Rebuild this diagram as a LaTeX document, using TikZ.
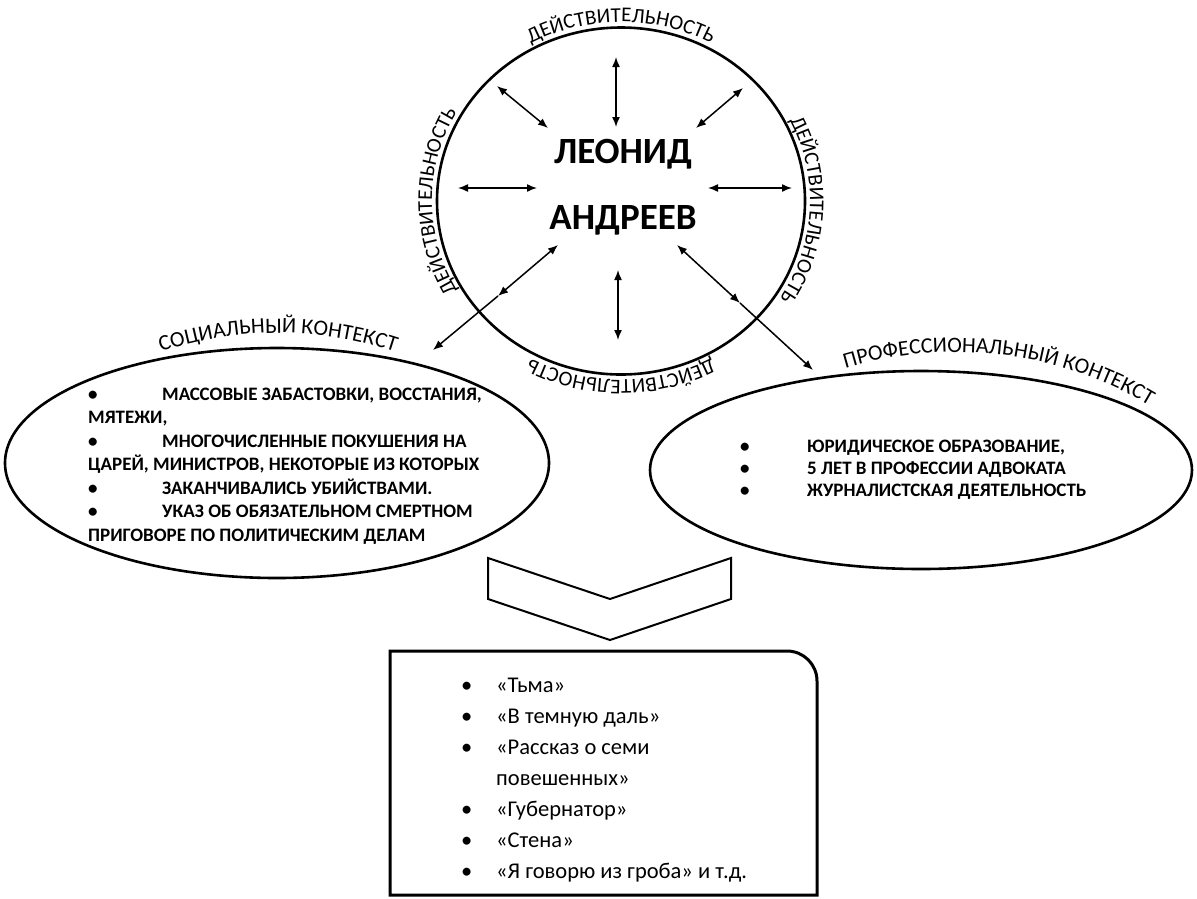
\documentclass[tikz,border=0pt]{standalone}
\usepackage{fontspec}
\setmainfont{Carlito}
\usetikzlibrary{arrows.meta,positioning,shapes.geometric,decorations.text}

\newcommand\bul[1]{\makebox[#1][l]{•}}
\newcommand\ringfont{\fontsize{21pt}{21pt}\selectfont}
\newcommand\ctxfont{\fontsize{22pt}{22pt}\selectfont}

\begin{document}
\begin{tikzpicture}[
  x=1pt, y=-1pt,
  >={Latex[length=10pt,width=8pt]},
  rim/.style={draw=black, line width=2.6pt, ellipse, inner sep=0pt},
  lst/.style={align=left, inner sep=0pt, anchor=west},
  biglbl/.style={align=center, inner sep=0pt, font=\fontsize{37pt}{66pt}\selectfont\bfseries},
  pair/.style={<->, line width=1.5pt},
  link/.style={->, line width=1.5pt},
  ringtext/.style={decorate, decoration={text along path, text align=center, text={|\ringfont|#1}}},
  ctxtext/.style={decorate, decoration={text along path, text align=center, text={|\ctxfont|#1}}}
]
\useasboundingbox (0,0) rectangle (1197,898);

% Circle and the two contexts
\node[rim, minimum width=368pt, minimum height=347pt] (reality) at (621,201) {};
\node[rim, minimum width=544pt, minimum height=230pt] (social) at (277,463) {};
\node[rim, minimum width=542pt, minimum height=198pt] (prof) at (921,470) {};

\node[biglbl] (author) at (623,187) {ЛЕОНИД\\АНДРЕЕВ};

% Labels round the circle
\path[ringtext=ДЕЙСТВИТЕЛЬНОСТЬ] (reality.center) ++(-150:189 and 179) arc[start angle=-150, end angle=-30, x radius=189, y radius=179];
\path[ringtext=ДЕЙСТВИТЕЛЬНОСТЬ] (reality.center) ++(-57:189 and 179) arc[start angle=-57, end angle=63, x radius=189, y radius=179];
\path[ringtext=ДЕЙСТВИТЕЛЬНОСТЬ] (reality.center) ++(30:189 and 179) arc[start angle=30, end angle=150, x radius=189, y radius=179];
\path[ringtext=ДЕЙСТВИТЕЛЬНОСТЬ] (reality.center) ++(120:189 and 179) arc[start angle=120, end angle=240, x radius=189, y radius=179];

% Context titles
\path[ctxtext=СОЦИАЛЬНЫЙ КОНТЕКСТ] (278,703) ++(-117:370) arc[start angle=-117, end angle=-63, radius=370];
\path[ctxtext=ПРОФЕССИОНАЛЬНЫЙ КОНТЕКСТ] (955,732) ++(-120:380) arc[start angle=-120, end angle=-46, radius=380];

% Lists
\node[lst, font=\fontsize{19pt}{23.5pt}\selectfont\bfseries] (social list) at (88,466) {%
\bul{74pt}МАССОВЫЕ ЗАБАСТОВКИ, ВОССТАНИЯ,\\
МЯТЕЖИ,\\
\bul{74pt}МНОГОЧИСЛЕННЫЕ ПОКУШЕНИЯ НА\\
ЦАРЕЙ, МИНИСТРОВ, НЕКОТОРЫЕ ИЗ КОТОРЫХ\\
\bul{74pt}ЗАКАНЧИВАЛИСЬ УБИЙСТВАМИ.\\
\bul{74pt}УКАЗ ОБ ОБЯЗАТЕЛЬНОМ СМЕРТНОМ\\
ПРИГОВОРЕ ПО ПОЛИТИЧЕСКИМ ДЕЛАМ};

\node[lst, font=\fontsize{19pt}{22pt}\selectfont\bfseries] (prof list) at (740,470) {%
\bul{67pt}ЮРИДИЧЕСКОЕ ОБРАЗОВАНИЕ,\\
\bul{67pt}5 ЛЕТ В ПРОФЕССИИ АДВОКАТА\\
\bul{67pt}ЖУРНАЛИСТСКАЯ ДЕЯТЕЛЬНОСТЬ};

% Chevron and works box
\draw[line width=2pt] (488,558) -- (610,599) -- (731,558) -- (731,599) -- (610,640) -- (488,599) -- cycle;
\draw[line width=3pt] (390,895) -- (390,651) -- (787,651) arc[start angle=-90, end angle=0, radius=30] -- (817,895) -- cycle;

\node[lst, font=\fontsize{22.5pt}{31pt}\selectfont] (works) at (461,780) {%
\bul{35pt}«Тьма»\\
\bul{35pt}«В темную даль»\\
\bul{35pt}«Рассказ о семи\\
\hspace*{35pt}повешенных»\\
\bul{35pt}«Губернатор»\\
\bul{35pt}«Стена»\\
\bul{35pt}«Я говорю из гроба» и т.д.};

% Arrows inside the circle
\coordinate (n1) at (616,57);  \coordinate (n2) at (616,127);
\coordinate (nw1) at (497,86); \coordinate (nw2) at (548,128);
\coordinate (ne1) at (743,88); \coordinate (ne2) at (696,128);
\coordinate (w1) at (458,188); \coordinate (w2) at (537,188);
\coordinate (e1) at (708,188); \coordinate (e2) at (792,188);
\coordinate (s1) at (618,270); \coordinate (s2) at (618,340);
\coordinate (sw1) at (558,245); \coordinate (sw2) at (498,296); \coordinate (sw3) at (433,350);
\coordinate (se1) at (677,245); \coordinate (se2) at (740,303); \coordinate (se3) at (813,370);

\draw[pair] (n1) -- (n2);
\draw[pair] (nw1) -- (nw2);
\draw[pair] (ne1) -- (ne2);
\draw[pair] (w1) -- (w2);
\draw[pair] (e1) -- (e2);
\draw[pair] (s1) -- (s2);
\draw[pair] (sw1) -- (sw2);
\draw[pair] (se1) -- (se2);

% Out to the contexts
\draw[link] (sw2) -- (sw3);
\draw[link] (se2) -- (se3);

\end{tikzpicture}
\end{document}
